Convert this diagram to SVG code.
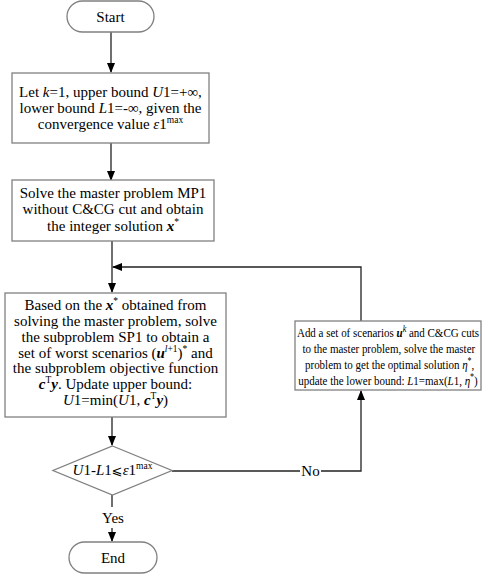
<svg xmlns="http://www.w3.org/2000/svg" width="491" height="574" viewBox="0 0 491 574">
<defs>
<marker id="ah" markerWidth="10" markerHeight="10" refX="9" refY="4" orient="auto" markerUnits="userSpaceOnUse">
<path d="M0,0 L10,4 L0,8 Z" fill="#000"/>
</marker>
<style>
.box{fill:#fff;stroke:#808080;stroke-width:1.3}
.t{font-family:"Liberation Serif","Times New Roman",serif;font-size:15px;fill:#000;text-anchor:middle}
.s{font-size:13px}
.i{font-style:italic}
.b{font-style:italic;font-weight:bold}
.sup{font-size:9.5px}
.ln{fill:none;stroke:#222;stroke-width:1.3}
</style>
</defs>
<rect width="491" height="574" fill="#fff"/>
<g id="connectors">
<line class="ln" x1="111" y1="32" x2="111" y2="72" marker-end="url(#ah)"/>
<line class="ln" x1="111" y1="143" x2="111" y2="180" marker-end="url(#ah)"/>
<line class="ln" x1="112" y1="241" x2="112" y2="292" marker-end="url(#ah)"/>
<polyline class="ln" points="361,321 361,267 113,267" marker-end="url(#ah)"/>
<line class="ln" x1="112" y1="417" x2="112" y2="445" marker-end="url(#ah)"/>
<polyline class="ln" points="172,471 300,471"/>
<polyline class="ln" points="321,471 361,471 361,391" marker-end="url(#ah)"/>
<line class="ln" x1="112" y1="494" x2="112" y2="507"/>
<line class="ln" x1="112" y1="528" x2="112" y2="541" marker-end="url(#ah)"/>
<text class="t" x="310.5" y="476">No</text>
<text class="t" x="113" y="523">Yes</text>
</g>
<g id="start">
<rect class="box" x="67" y="1" width="87" height="31" rx="15.5"/>
<text class="t" x="110.5" y="21.5">Start</text>
</g>
<g id="init">
<rect class="box" x="12" y="73" width="197" height="70"/>
<text class="t" x="110.5" y="97">Let <tspan class="i">k</tspan>=1, upper bound <tspan class="i">U</tspan>1=+∞,</text>
<text class="t" x="110.5" y="113">lower bound <tspan class="i">L</tspan>1=-∞, given the</text>
<text class="t" x="110.5" y="128.5">convergence value <tspan class="i">ε</tspan>1<tspan class="sup" dy="-6">max</tspan></text>
</g>
<g id="master">
<rect class="box" x="12" y="180" width="202" height="61"/>
<text class="t" x="113" y="198">Solve the master problem MP1</text>
<text class="t" x="113" y="214">without C&amp;CG cut and obtain</text>
<text class="t" x="113" y="231">the integer solution <tspan class="b">x</tspan><tspan class="sup" dy="-6">*</tspan></text>
</g>
<g id="sub">
<rect class="box" x="5" y="293" width="221" height="124"/>
<text class="t" x="115.5" y="310">Based on the <tspan class="b">x</tspan><tspan class="sup" dy="-6">*</tspan><tspan dy="6"> obtained from</tspan></text>
<text class="t" x="115.5" y="326">solving the master problem, solve</text>
<text class="t" x="115.5" y="342">the subproblem SP1 to obtain a</text>
<text class="t" x="115.5" y="357.5">set of worst scenarios (<tspan class="b">u</tspan><tspan class="sup" dy="-6"><tspan class="i">l</tspan>+1</tspan><tspan dy="6">)</tspan><tspan class="sup" dy="-6">*</tspan><tspan dy="6"> and</tspan></text>
<text class="t" x="115.5" y="373">the subproblem objective function</text>
<text class="t" x="115.5" y="389"><tspan class="b">c</tspan><tspan class="sup" dy="-6">T</tspan><tspan class="b" dy="6">y</tspan>. Update upper bound:</text>
<text class="t" x="115.5" y="405"><tspan class="i">U</tspan>1=min(<tspan class="i">U</tspan>1, <tspan class="b">c</tspan><tspan class="sup" dy="-6">T</tspan><tspan class="b" dy="6">y</tspan>)</text>
</g>
<g id="cuts">
<rect class="box" x="295" y="321" width="186" height="69"/>
<g transform="translate(388,0) scale(0.845,1)">
<text class="t s" x="0" y="337">Add a set of scenarios <tspan class="b">u</tspan><tspan class="sup" dy="-5"><tspan class="i">k</tspan></tspan><tspan dy="5"> and C&amp;CG cuts</tspan></text>
<text class="t s" x="1" y="353">to the master problem, solve the master</text>
<text class="t s" x="2" y="369">problem to get the optimal solution <tspan class="i">η</tspan><tspan class="sup" dy="-5">*</tspan><tspan dy="5">,</tspan></text>
<text class="t s" x="0" y="385">update the lower bound: <tspan class="i">L</tspan>1=max(<tspan class="i">L</tspan>1, <tspan class="i">η</tspan><tspan class="sup" dy="-5">*</tspan><tspan dy="5">)</tspan></text>
</g>
</g>
<g id="check">
<polygon class="box" points="112.5,446 172,470.5 112.5,495 53,470.5"/>
<text class="t" x="112.5" y="475"><tspan class="i">U</tspan>1-<tspan class="i">L</tspan>1<tspan font-family="DejaVu Sans,sans-serif" font-size="13">⩽</tspan><tspan class="i">ε</tspan>1<tspan class="sup" dy="-6">max</tspan></text>
</g>
<g id="end">
<rect class="box" x="69" y="542" width="88" height="31" rx="15.5"/>
<text class="t" x="113" y="562.5">End</text>
</g>
</svg>
